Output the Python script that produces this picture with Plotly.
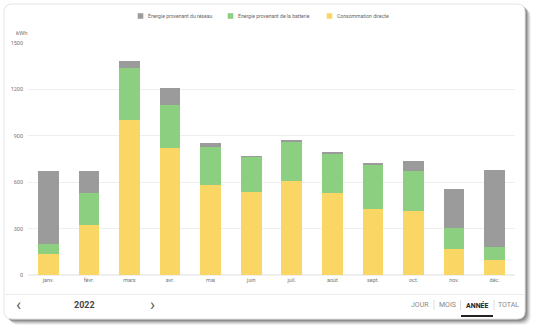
import plotly.graph_objects as go

# Monthly energy consumption, 2022 (kWh)
months = ["janv.", "févr.", "mars", "avr.", "mai", "juin",
          "juil.", "août", "sept.", "oct.", "nov.", "déc."]
direct = [135, 325, 1005, 820, 585, 535, 610, 530, 425, 415, 165, 97]
battery = [65, 205, 335, 280, 245, 228, 250, 252, 285, 260, 136, 86]
grid = [470, 145, 45, 110, 25, 5, 7, 13, 17, 65, 255, 497]
y_ticks = [0, 300, 600, 900, 1200, 1500]

series_names = ["Consommation directe",
                "Énergie provenant de la batterie",
                "Énergie provenant du réseau"]
period_buttons = ["JOUR", "MOIS", "ANNÉE", "TOTAL"]
year_label = "2022"

W, H = 539, 332
ML, MR, MT, MB = 28, 24, 43, 57
PW, PH = W - ML - MR, H - MT - MB
FONT = "Roboto"


def px(x):
    return (x - ML) / PW


def py(y):
    return (H - MB - y) / PH


def rounded_rect(x0, y0, x1, y1, r):
    pts = [
        f"M {px(x0 + r)},{py(y0)}",
        f"L {px(x1 - r)},{py(y0)}",
        f"Q {px(x1)},{py(y0)} {px(x1)},{py(y0 + r)}",
        f"L {px(x1)},{py(y1 - r)}",
        f"Q {px(x1)},{py(y1)} {px(x1 - r)},{py(y1)}",
        f"L {px(x0 + r)},{py(y1)}",
        f"Q {px(x0)},{py(y1)} {px(x0)},{py(y1 - r)}",
        f"L {px(x0)},{py(y0 + r)}",
        f"Q {px(x0)},{py(y0)} {px(x0 + r)},{py(y0)}",
        "Z",
    ]
    return " ".join(pts)


fig = go.Figure()
colors = ["#fad764", "#8ccf81", "#9b9b9b"]
for name, vals, col in zip(series_names, [direct, battery, grid], colors):
    fig.add_trace(go.Bar(x=months, y=vals, name=name, showlegend=False,
                         marker=dict(color=col, line=dict(width=0))))

shapes = []
# soft shadow of the card (right / bottom)
for i, op in enumerate([0.08, 0.12, 0.18, 0.26, 0.34]):
    d = 5 - i
    shapes.append(dict(type="path", xref="paper", yref="paper", layer="below",
                       path=rounded_rect(4 + d + 1, 4 + d, 525 + d + 1, 320 + d, 9),
                       fillcolor=f"rgba(90,90,90,{op})", line=dict(width=0)))
# card
shapes.append(dict(type="path", xref="paper", yref="paper", layer="below",
                   path=rounded_rect(4, 4, 525, 319, 8),
                   fillcolor="white", line=dict(color="#e4e4e4", width=1)))
# footer separator
shapes.append(dict(type="line", xref="paper", yref="paper", layer="above",
                   x0=px(5), x1=px(524), y0=py(294.5), y1=py(294.5),
                   line=dict(color="#ececec", width=1)))
# footer button separators
for sx in [434, 460.5, 494]:
    shapes.append(dict(type="line", xref="paper", yref="paper",
                       x0=px(sx), x1=px(sx), y0=py(300), y1=py(310),
                       line=dict(color="#dddddd", width=1)))
# active tab underline
shapes.append(dict(type="line", xref="paper", yref="paper",
                   x0=px(461), x1=px(493), y0=py(316), y1=py(316),
                   line=dict(color="#222222", width=2)))

annotations = [
    dict(text="kWh", x=px(14), y=py(33), xref="paper", yref="paper",
         xanchor="left", yanchor="middle", showarrow=False,
         font=dict(family=FONT, size=6, color="#777777")),
    dict(text="‹", x=px(18), y=py(304), xref="paper", yref="paper",
         xanchor="center", yanchor="middle", showarrow=False,
         font=dict(family=FONT, size=17, color="#555555")),
    dict(text="›", x=px(152), y=py(304), xref="paper", yref="paper",
         xanchor="center", yanchor="middle", showarrow=False,
         font=dict(family=FONT, size=17, color="#555555")),
    dict(text=f"<b>{year_label}</b>", x=px(84), y=py(305), xref="paper", yref="paper",
         xanchor="center", yanchor="middle", showarrow=False,
         font=dict(family=FONT, size=9, color="#444444")),
]
for label, cx in zip(period_buttons, [420, 447, 477, 508]):
    active = label == "ANNÉE"
    annotations.append(dict(
        text=f"<b>{label}</b>" if active else label,
        x=px(cx), y=py(305), xref="paper", yref="paper",
        xanchor="center", yanchor="middle", showarrow=False,
        font=dict(family=FONT, size=7, color="#222222" if active else "#888888")))

# compact legend row: colour square followed by the series name
legend_items = list(zip(series_names, colors))[::-1]
for (name, col), sq_x in zip(legend_items, [140.5, 230.5, 329.5]):
    shapes.append(dict(type="rect", xref="paper", yref="paper",
                       x0=px(sq_x - 2.8), x1=px(sq_x + 2.8),
                       y0=py(16 + 2.8), y1=py(16 - 2.8),
                       fillcolor=col, line=dict(width=0)))
    annotations.append(dict(text=name, x=px(sq_x + 5.5), y=py(16), xref="paper", yref="paper",
                            xanchor="left", yanchor="middle", showarrow=False,
                            font=dict(family=FONT, size=5.1, color="#666666")))

fig.update_layout(
    width=W, height=H,
    margin=dict(l=ML, r=MR, t=MT, b=MB),
    paper_bgcolor="white", plot_bgcolor="rgba(0,0,0,0)",
    barmode="stack", bargap=0.49,
    font=dict(family=FONT, size=6, color="#777777"),
    showlegend=False,
    xaxis=dict(showgrid=False, showline=False, ticks="", tickfont=dict(size=5.5, color="#777777"),
               fixedrange=True),
    yaxis=dict(range=[0, 1500], tickvals=y_ticks, showgrid=True, gridcolor="#efefef",
               gridwidth=1, zeroline=True, zerolinecolor="#efefef", showline=False,
               ticks="", tickfont=dict(size=5.5, color="#777777"), ticklabelstandoff=4),
    shapes=shapes,
    annotations=annotations,
)

fig.write_html("out.html")
